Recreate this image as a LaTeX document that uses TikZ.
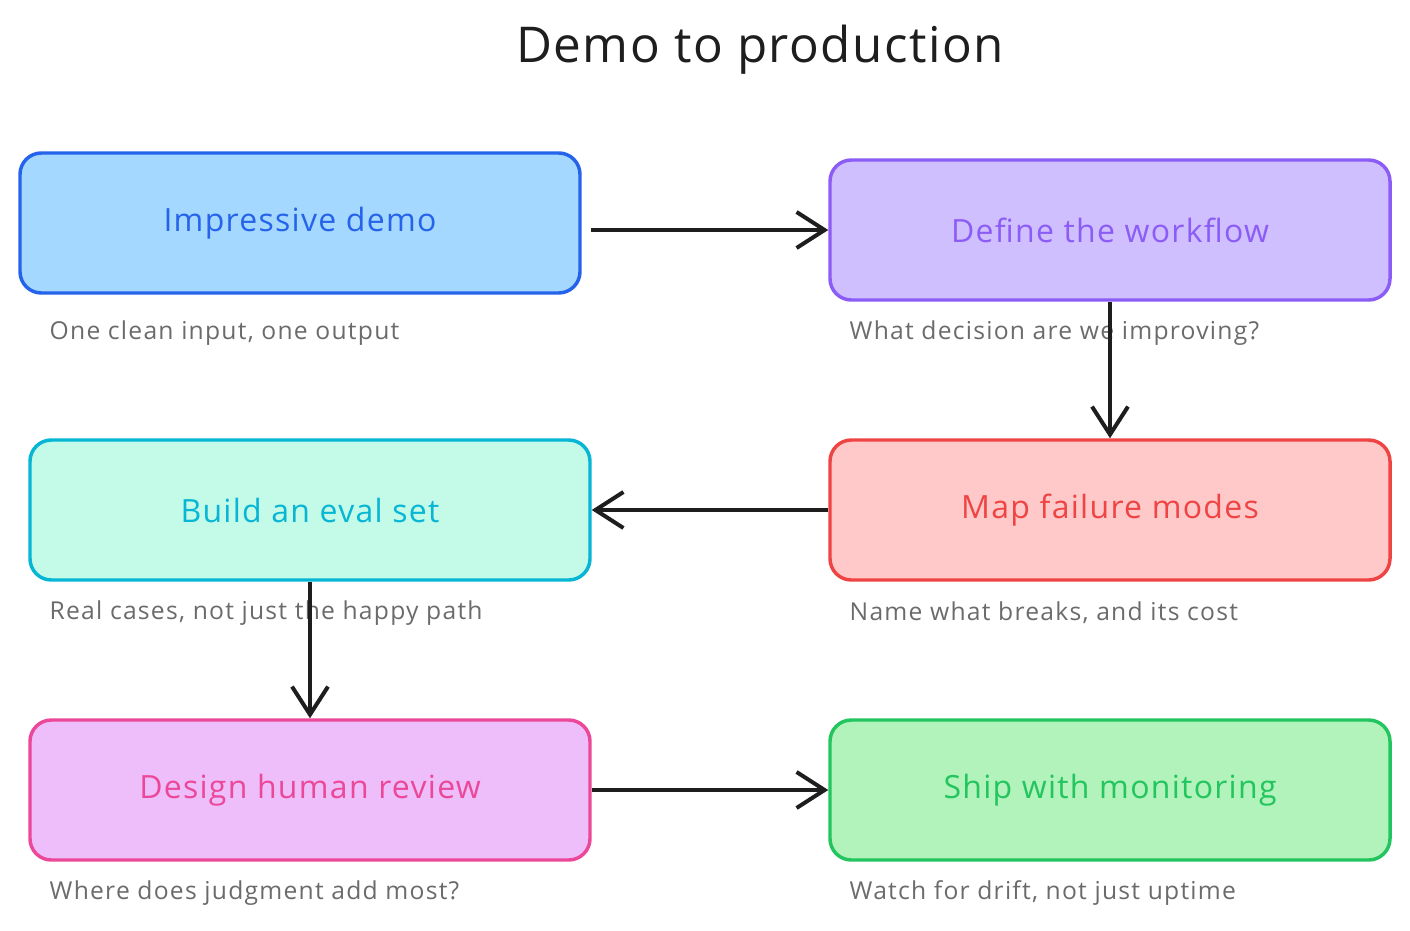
\documentclass[tikz,border=0pt]{standalone}
\usepackage{fontspec}
\setmainfont{Open Sans}
\usetikzlibrary{positioning, arrows.meta}

\definecolor{blueline}{HTML}{2563EB}\definecolor{bluefill}{HTML}{A5D8FF}
\definecolor{violetline}{HTML}{8B5CF6}\definecolor{violetfill}{HTML}{D0BFFF}
\definecolor{cyanline}{HTML}{06B6D4}\definecolor{cyanfill}{HTML}{C3FAE8}
\definecolor{redline}{HTML}{EF4444}\definecolor{redfill}{HTML}{FFC9C9}
\definecolor{pinkline}{HTML}{EC4899}\definecolor{pinkfill}{HTML}{EEBEFA}
\definecolor{greenline}{HTML}{22C55E}\definecolor{greenfill}{HTML}{B2F2BB}
\definecolor{notegray}{HTML}{6B6B6B}
\definecolor{ink}{HTML}{1E1E1E}

\begin{document}
\begin{tikzpicture}[x=0.75pt,y=-0.75pt]\tikzset{>={Straight Barb[length=21pt,width=27pt]},
	box/.style={draw, line width=2.6pt, rounded corners=16pt, minimum width=420pt, minimum height=105pt, font=\fontsize{24}{28}\selectfont\addfontfeature{LetterSpace=4}},
	note/.style={anchor=west, text=notegray, font=\fontsize{18.5}{22}\selectfont\addfontfeature{LetterSpace=5}},
	flow/.style={->, draw=ink, line width=3pt}}
	\useasboundingbox (0,0) rectangle (1410,931);
	\node[text=ink, font=\fontsize{37}{44}\selectfont\addfontfeature{LetterSpace=3}] (title) at (760,50) {Demo to production};
	\node[box, draw=blueline, fill=bluefill, text=blueline] (demo) at (300,223) {Impressive demo};
	\node[box, draw=violetline, fill=violetfill, text=violetline] (flow) at (1110,230) {Define the workflow};
	\node[box, draw=cyanline, fill=cyanfill, text=cyanline] (eval) at (310,510) {Build an eval set};
	\node[box, draw=redline, fill=redfill, text=redline] (fail) at (1110,510) {Map failure modes};
	\node[box, draw=pinkline, fill=pinkfill, text=pinkline] (review) at (310,790) {Design human review};
	\node[box, draw=greenline, fill=greenfill, text=greenline] (ship) at (1110,790) {Ship with monitoring};
	\node[note] (demonote) at (45,333) {One clean input, one output};
	\node[note] (flownote) at (845,333) {What decision are we improving?};
	\node[note] (evalnote) at (45,613) {Real cases, not just the happy path};
	\node[note] (failnote) at (845,613) {Name what breaks, and its cost};
	\node[note] (reviewnote) at (45,893) {Where does judgment add most?};
	\node[note] (shipnote) at (845,893) {Watch for drift, not just uptime};
	\path[flow] ([xshift=7pt]demo.east |- flow.west) -- (flow.west);
	\path[flow] (flow.south) -- (fail.north);
	\path[flow] (fail.west) -- (eval.east);
	\path[flow] (eval.south) -- (review.north);
	\path[flow] (review.east) -- (ship.west);
\end{tikzpicture}
\end{document}
